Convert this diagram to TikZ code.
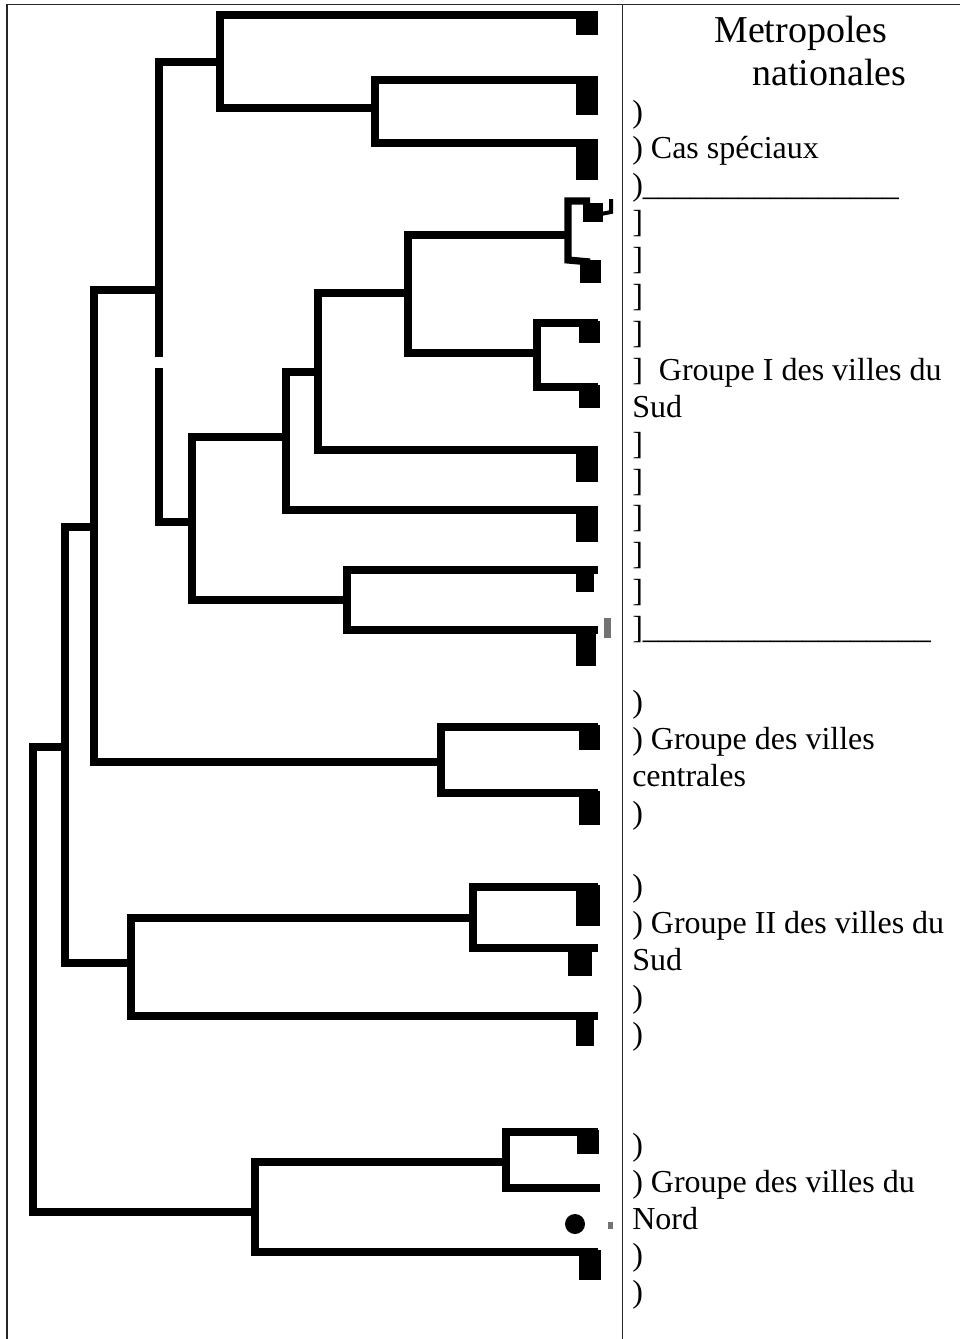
\documentclass[tikz,border=0pt]{standalone}
\usepackage{fontspec}
\setmainfont{Liberation Serif}
\begin{document}
\begin{tikzpicture}[x=0.75pt,y=-0.75pt,
  branch/.style={draw=black, line width=5.4pt, line join=miter},
  blob/.style={fill=black},
  faint/.style={fill=black!55},
  frameline/.style={draw=black!85, line width=1.3pt},
  lbl/.style={anchor=base west, inner sep=0pt, font=\fontsize{24}{28}\selectfont},
  head/.style={anchor=base west, inner sep=0pt, font=\fontsize{28.5}{33}\selectfont}]
\useasboundingbox (0,0) rectangle (960,1339);
\fill[white] (0,0) rectangle (960,1339);
% frame
\draw[frameline] (7,1339) -- (7,4.5) -- (960,4.5);
\draw[frameline] (622.5,4.5) -- (622.5,1339);

% ---- dendrogram ----
% special cases
\draw[branch] (598,80) -- (375,80) -- (375,143) -- (598,143);
\draw[branch] (598,15) -- (220,15) -- (220,108) -- (375,108);
\draw[branch] (220,62) -- (159,62) -- (159,357);
\draw[branch] (159,368) -- (159,522) -- (192,522);
% Groupe I
\draw[branch] (590,201) -- (568,201) -- (568,260) -- (590,262);
\draw[branch] (568,235) -- (408,235) -- (408,353) -- (537,353);
\draw[branch] (598,323) -- (537,323) -- (537,387) -- (598,387);
\draw[branch] (408,293) -- (318,293) -- (318,450) -- (598,450);
\draw[branch] (318,372) -- (286,372) -- (286,510) -- (598,510);
\draw[branch] (286,437) -- (192,437) -- (192,600) -- (347,600);
\draw[branch] (598,570) -- (347,570) -- (347,630) -- (598,630);
% central
\draw[branch] (159,290) -- (94,290) -- (94,762) -- (441,762);
\draw[branch] (598,727) -- (441,727) -- (441,793) -- (598,793);
% Groupe II
\draw[branch] (94,527) -- (65,527) -- (65,963) -- (131,963);
\draw[branch] (598,887) -- (473,887) -- (473,948) -- (598,948);
\draw[branch] (473,918) -- (131,918) -- (131,1016) -- (598,1016);
% Nord
\draw[branch] (65,747) -- (33,747) -- (33,1212) -- (255,1212);
\draw[branch] (598,1132) -- (506,1132) -- (506,1188) -- (600,1188);
\draw[branch] (506,1162) -- (255,1162) -- (255,1252) -- (598,1252);

% leaf ends
\fill[blob] (576,13) rectangle (598,35);
\fill[blob] (576,78) rectangle (598,115);
\fill[blob] (576,141) rectangle (598,180);
\fill[blob] (583,203) rectangle (603,222);
\draw[line width=3pt] (601,214) -- (611,212) -- (611,199);
\fill[blob] (580,260) rectangle (601,283);
\fill[blob] (579,321) rectangle (600,343);
\fill[blob] (579,385) rectangle (600,408);
\fill[blob] (576,448) rectangle (598,482);
\fill[blob] (576,508) rectangle (598,542);
\fill[blob] (576,568) rectangle (594,592);
\fill[blob] (576,628) rectangle (596,666);
\fill[faint] (604,618) rectangle (611,638);
\fill[blob] (579,725) rectangle (600,750);
\fill[blob] (579,791) rectangle (600,825);
\fill[blob] (576,885) rectangle (600,926);
\fill[blob] (568,946) rectangle (592,976);
\fill[blob] (576,1018) rectangle (594,1046);
\fill[blob] (577,1130) rectangle (599,1154);
\fill[blob] (575,1224) circle[radius=7.5pt];
\fill[faint] (608,1222) rectangle (613,1229);
\fill[blob] (579,1250) rectangle (601,1280);

% ---- labels ----
\node[head] (h1) at (714,42) {Metropoles};
\node[head] (h2) at (752,85) {nationales};
\foreach \k/\t in {
  0/{)},
  1/{) Cas spéciaux},
  2/{)\_\_\_\_\_\_\_\_\_\_\_\_\_\_\_\_},
  3/{]}, 4/{]}, 5/{]}, 6/{]},
  7/{]\hspace{0.5em}Groupe I des villes du},
  8/{Sud},
  9/{]}, 10/{]}, 11/{]}, 12/{]}, 13/{]},
  14/{]\_\_\_\_\_\_\_\_\_\_\_\_\_\_\_\_\_\_},
  16/{)},
  17/{) Groupe des villes},
  18/{centrales},
  19/{)},
  21/{)},
  22/{) Groupe II des villes du},
  23/{Sud},
  24/{)}, 25/{)},
  28/{)},
  29/{) Groupe des villes du},
  30/{Nord},
  31/{)}, 32/{)}}
  \node[lbl] (t\k) at (632,{122+36.9*\k}) {\t};
\end{tikzpicture}
\end{document}
